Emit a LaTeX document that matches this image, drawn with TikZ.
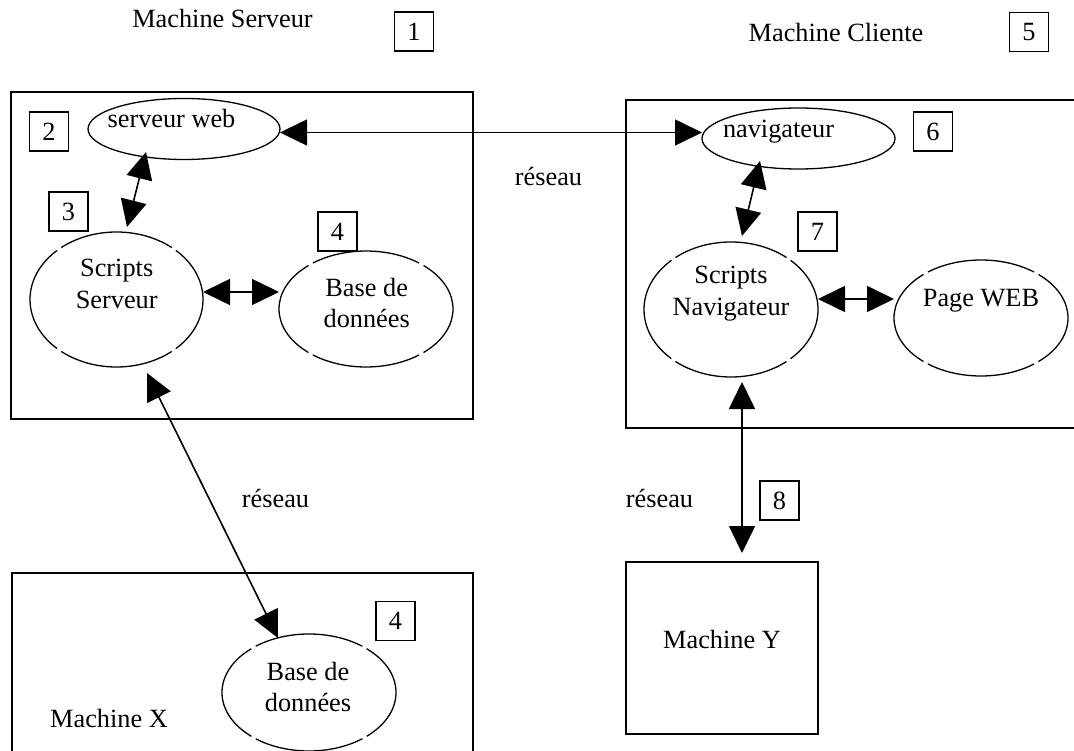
\documentclass[tikz,border=0pt]{standalone}
\usepackage{fontspec}
\setmainfont{Liberation Serif}
\usetikzlibrary{shapes.geometric,arrows.meta}
\begin{document}
\begin{tikzpicture}[x=1pt,y=-1pt,
  every node/.style={font=\fontsize{26.3}{31.5}\selectfont},
  txt/.style={anchor=base,inner sep=0pt,outer sep=0pt},
  numbox/.style={draw,line width=1.6pt,minimum width=39pt,minimum height=39pt,inner sep=0pt,outer sep=0pt},
  frame/.style={draw,line width=1.8pt},
  oval/.style={draw,ellipse,line width=1.3pt,inner sep=0pt,outer sep=0pt},
  gapped/.style 2 args={dash pattern=on #1 off 5pt,dash phase=#2},
  biarrow/.style={line width=1.6pt,{Triangle[length=27pt,width=26pt]}-{Triangle[length=27pt,width=26pt]}},
]
\useasboundingbox (0,0) rectangle (1074,751);
\fill[white] (0,0) rectangle (1074,751);
\clip (0,0) rectangle (1074,751);

% frames
\draw[frame] (11,92) rectangle (473,419);
\draw[frame] (626,100) rectangle (1100,428);
\draw[frame] (12,573) rectangle (473,790);
\node[draw,line width=1.8pt,minimum width=192pt,minimum height=172pt,inner sep=0pt,outer sep=0pt] (my) at (722,648) {};

% ellipses
\node[oval,minimum width=192pt,minimum height=61pt] (sw) at (184,129) {};
\node[oval,minimum width=193pt,minimum height=61pt] (nav) at (798.5,138.5) {};
\node[oval,gapped={116.4pt}{58.2pt},minimum width=173pt,minimum height=135pt] (ss) at (116.5,299.5) {};
\node[oval,gapped={110pt}{55pt},minimum width=174pt,minimum height=116pt] (bd) at (366,309) {};
\node[oval,gapped={116.8pt}{58.4pt},minimum width=174pt,minimum height=135pt] (sn) at (731,309.5) {};
\node[oval,gapped={110pt}{55pt},minimum width=174pt,minimum height=116pt] (pw) at (981,318) {};
\node[oval,gapped={110.4pt}{55.2pt},minimum width=174pt,minimum height=117pt] (bdx) at (309,692.5) {};

% texts
\node[txt] (tms) at (222.5,28) {Machine Serveur};
\node[txt] (tmc) at (836,41.5) {Machine Cliente};
\node[txt] (tsw) at (171.5,128) {serveur web};
\node[txt] (tnav) at (778.5,137.5) {navigateur};
\node[txt] (tss1) at (116.7,276.7) {Scripts};
\node[txt] (tss2) at (116.7,308.3) {Serveur};
\node[txt] (tbd1) at (366.7,297) {Base de};
\node[txt] (tbd2) at (366.7,328) {données};
\node[txt] (tsn1) at (731,284) {Scripts};
\node[txt] (tsn2) at (731,316) {Navigateur};
\node[txt] (tpw) at (981,306.7) {Page WEB};
\node[txt] (tbdx1) at (308,680.5) {Base de};
\node[txt] (tbdx2) at (308,711.5) {données};
\node[txt] (tmx) at (109,727) {Machine X};
\node[txt] (tmy) at (722,648) {Machine Y};
\node[txt] (tr1) at (548.5,186) {réseau};
\node[txt] (tr2) at (275.5,507) {réseau};
\node[txt] (tr3) at (659.5,507) {réseau};

% number boxes
\node[numbox] (n1) at (414,31.5) {1};
\node[numbox] (n2) at (49,131.5) {2};
\node[numbox] (n3) at (68.5,211.5) {3};
\node[numbox] (n4) at (337.5,231.5) {4};
\node[numbox] (n5) at (1029,32) {5};
\node[numbox] (n6) at (933,131.5) {6};
\node[numbox] (n7) at (817.5,231.5) {7};
\node[numbox] (n8) at (779.5,500.5) {8};
\node[numbox] (n4b) at (395.5,621) {4};

% connectors
\draw[biarrow] ([yshift=-3.5pt]sw.east) -- ([yshift=6pt]nav.west);
\draw[biarrow] ([xshift=-38pt,yshift=7.5pt]sw.south) -- ([xshift=10.5pt,yshift=5pt]ss.north);
\draw[biarrow] ([yshift=7.5pt]ss.east) -- ([yshift=17pt]bd.west);
\draw[biarrow] ([xshift=-38.5pt,yshift=8pt]nav.south) -- ([xshift=11pt,yshift=6pt]sn.north);
\draw[biarrow] ([yshift=10.5pt]sn.east) -- ([yshift=19pt]pw.west);
\draw[biarrow] ([xshift=11pt,yshift=-5pt]sn.south) -- ([xshift=20pt,yshift=9pt]my.north);
\draw[biarrow] ([xshift=30.5pt,yshift=-6pt]ss.south) -- ([xshift=-31pt,yshift=-4pt]bdx.north);
\end{tikzpicture}
\end{document}
